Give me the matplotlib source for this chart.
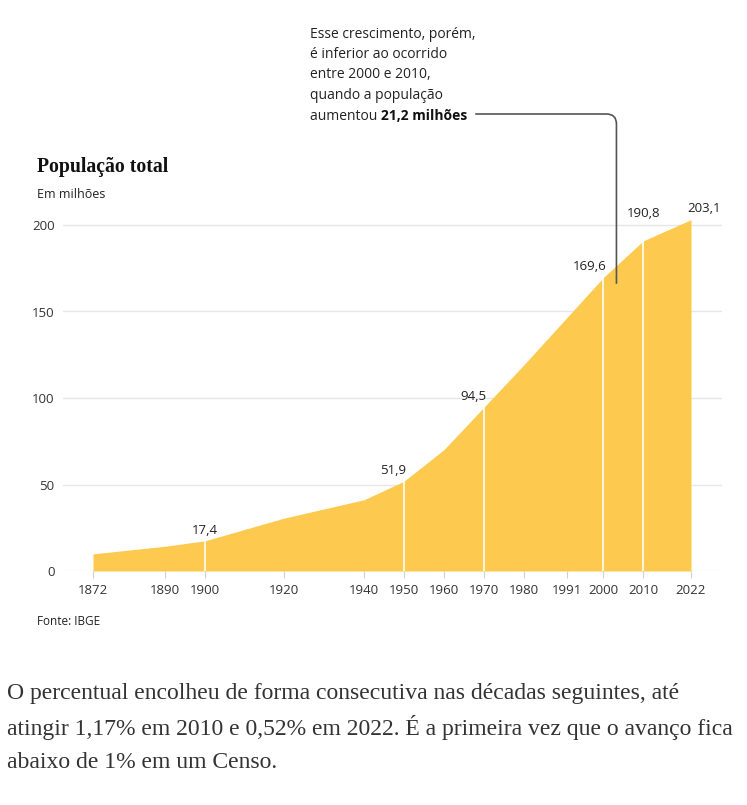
import numpy as np
import matplotlib.pyplot as plt
from matplotlib.path import Path
from matplotlib.patches import PathPatch

# dados do censo (IBGE), em milhões
anos = [1872, 1890, 1900, 1920, 1940, 1950, 1960, 1970, 1980, 1991, 2000, 2010, 2022]
populacao = [9.9, 14.3, 17.4, 30.6, 41.2, 51.9, 70.1, 94.5, 119.0, 146.8, 169.6, 190.8, 203.1]
anos_rotulados = [1900, 1950, 1970, 2000, 2010, 2022]
rotulos = ["17,4", "51,9", "94,5", "169,6", "190,8", "203,1"]
yticks = [0, 50, 100, 150, 200]

W, H = 747, 805
amarelo = "#fdc94f"
texto = "#222222"
sans = ["Open Sans", "DejaVu Sans"]
serif = ["Liberation Serif", "DejaVu Serif"]

def fx(x):
    return x / W

def fy(y):
    return 1 - y / H

fig = plt.figure(figsize=(W / 100, H / 100), dpi=100)
ax = fig.add_axes([fx(63), fy(571), fx(722) - fx(63), fy(215) - fy(571)])

px_ano = (691 - 93) / 150
ax.set_xlim(1872 - 30 / px_ano, 2022 + 31 / px_ano)
ax.set_ylim(0, 200 + 10 / 1.73)

ax.fill_between(anos, populacao, 0, color=amarelo, lw=0, zorder=2)

for v in yticks:
    ax.axhline(v, color="#e6e6e6", lw=1, zorder=1)

# linhas brancas nos anos com rótulo
pop = dict(zip(anos, populacao))
for a in anos_rotulados[:-1]:
    ax.plot([a, a], [0, pop[a]], color="white", lw=1.2, zorder=3)

alinh = {1900: "center", 1950: "right", 1970: "right", 2000: "right", 2010: "center", 2022: "left"}
desloc = {2010: 12}
for a, r in zip(anos_rotulados, rotulos):
    dx = {"right": 2, "left": -3, "center": 0}[alinh[a]]
    ax.annotate(r, (a, pop[a]), xytext=(dx, 3 + desloc.get(a, 0)), textcoords="offset points",
                ha=alinh[a], va="bottom", fontsize=9.5, color=texto, family=sans,
                zorder=5, annotation_clip=False)

for s in ax.spines.values():
    s.set_visible(False)
ax.set_xticks(anos)
ax.set_xticklabels([str(a) for a in anos], fontsize=9.5, color="#333333", family=sans)
ax.set_yticks(yticks)
ax.set_yticklabels([str(v) for v in yticks], fontsize=9.5, color="#333333", family=sans)
ax.tick_params(axis="x", length=5, color="#d0d0d0", pad=4)
ax.tick_params(axis="y", length=0, pad=6)

# títulos
fig.text(fx(37), fy(167), "População total", fontsize=14.2, fontweight="bold",
         family=serif, color="#111111", va="center")
fig.text(fx(37), fy(194), "Em milhões", fontsize=9, family=sans, color=texto, va="center")
fig.text(fx(37), fy(621), "Fonte: IBGE", fontsize=8.5, family=sans, color=texto, va="center")

# anotação
linhas = ["Esse crescimento, porém,", "é inferior ao ocorrido", "entre 2000 e 2010,",
          "quando a população"]
for i, l in enumerate(linhas):
    fig.text(fx(310), fy(34 + 20.5 * i), l, fontsize=10, family=sans, color=texto, va="center")
t1 = fig.text(fx(310), fy(116), "aumentou ", fontsize=10, family=sans, color=texto, va="center")
fig.canvas.draw()
bb = t1.get_window_extent()
t2 = fig.text(bb.x1 / W, fy(116), "21,2 milhões", fontsize=10, family=sans,
              fontweight="bold", color="#111111", va="center")
fig.canvas.draw()
bb2 = t2.get_window_extent()

xa, ya = ax.transData.transform((2003.3, 166))
x0 = bb2.x1 + 8
yh = H - 114
r = 10
verts = [(x0, yh), (xa - r, yh), (xa, yh), (xa, yh - r), (xa, ya)]
codes = [Path.MOVETO, Path.LINETO, Path.CURVE3, Path.CURVE3, Path.LINETO]
fig.patches.append(PathPatch(Path(verts, codes), transform=None, fill=False,
                             edgecolor="#555555", lw=1.2, zorder=10))

# parágrafo
par = ["O percentual encolheu de forma consecutiva nas décadas seguintes, até",
       "atingir 1,17% em 2010 e 0,52% em 2022. É a primeira vez que o avanço fica",
       "abaixo de 1% em um Censo."]
for i, l in enumerate(par):
    fig.text(fx(7), fy(693 + 34.5 * i), l, fontsize=17.0, family=serif, color="#333333", va="center")

fig.savefig("out.png", dpi=100, facecolor="white")
